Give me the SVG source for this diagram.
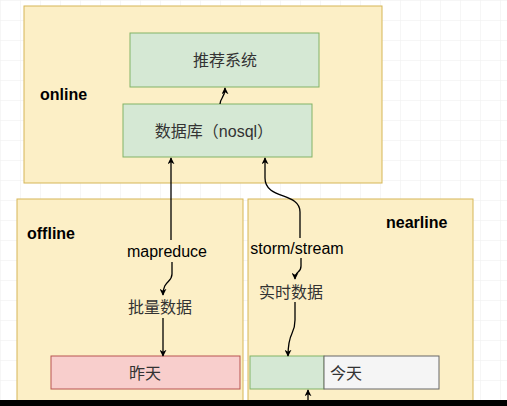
<svg xmlns="http://www.w3.org/2000/svg" width="507" height="406" viewBox="0 0 507 406">
<defs>
<marker id="arr" viewBox="0 0 10 10" refX="9" refY="5" markerWidth="7" markerHeight="7" orient="auto-start-reverse" markerUnits="userSpaceOnUse">
<path d="M0,0 L10,5 L0,10 L3,5 Z" fill="#000"/>
</marker>
<pattern id="grid" width="20" height="20" patternUnits="userSpaceOnUse">
<path d="M20,0 L0,0 L0,20" fill="none" stroke="#eeeeee" stroke-width="1"/>
</pattern>
</defs>
<style>
.zone{fill:#fcefc6;stroke:#d6b656;stroke-width:1}
.green{fill:#d5e8d4;stroke:#82b366;stroke-width:1}
.red{fill:#f8cecc;stroke:#b85450;stroke-width:1}
.grey{fill:#f5f5f5;stroke:#666666;stroke-width:1}
.lbl{font-family:"Liberation Sans","Noto Sans CJK SC",sans-serif;font-size:16px;font-weight:bold;fill:#000}
.t{font-family:"Liberation Sans","Noto Sans CJK SC",sans-serif;font-size:16px;fill:#333}
.e{fill:none;stroke:#000;stroke-width:1.3}
</style>
<rect width="507" height="406" fill="#ffffff"/>
<rect width="507" height="406" fill="url(#grid)"/>
<g id="online">
<rect class="zone" x="24" y="6" width="358" height="177"/>
<text class="lbl" x="40" y="100">online</text>
</g>
<g id="rec">
<rect class="green" x="130" y="33" width="189" height="54"/>
<text class="t" x="225" y="66" text-anchor="middle">推荐系统</text>
</g>
<g id="db">
<rect class="green" x="123" y="104" width="189" height="53"/>
<text class="t" x="214" y="137" text-anchor="middle">数据库（nosql）</text>
</g>
<g id="offline">
<rect class="zone" x="17" y="199" width="226" height="215"/>
<text class="lbl" x="27" y="239">offline</text>
</g>
<g id="nearline">
<rect class="zone" x="248" y="199" width="225" height="215"/>
<text class="lbl" x="386" y="228">nearline</text>
</g>
<g id="yesterday">
<rect class="red" x="51" y="356" width="189" height="33"/>
<text class="t" x="145" y="379" text-anchor="middle">昨天</text>
</g>
<g id="realtime">
<rect class="green" x="250" y="356" width="74" height="33"/>
</g>
<g id="today">
<rect class="grey" x="324" y="356" width="115" height="33"/>
<text class="t" x="330" y="379">今天</text>
</g>
<g id="connectors">
<path class="e" d="M220,104 C220,98 225,98 225,88" marker-end="url(#arr)"/>
<path class="e" d="M171,240 L171,158" marker-end="url(#arr)"/>
<path class="e" d="M172,262 L172,274 C172,283 163,280 163,295" marker-end="url(#arr)"/>
<path class="e" d="M163,318 L163,356" marker-end="url(#arr)"/>
<path class="e" d="M300,238 L300,212 C300,192 265,200 265,178 L265,158" marker-end="url(#arr)"/>
<path class="e" d="M301,258 L301,266 C301,274 295,270 295,279" marker-end="url(#arr)"/>
<path class="e" d="M295,302 L295,320 C295,336 288,330 288,356" marker-end="url(#arr)"/>
<path class="e" d="M308,406 L308,390" marker-end="url(#arr)"/>
</g>
<g id="labels">
<text class="t" x="167" y="257" text-anchor="middle" fill="#000" style="fill:#000">mapreduce</text>
<text class="t" x="160" y="313" text-anchor="middle">批量数据</text>
<text class="t" x="297" y="254" text-anchor="middle" style="fill:#000">storm/stream</text>
<text class="t" x="291" y="298" text-anchor="middle">实时数据</text>
</g>
<rect x="0" y="400" width="507" height="6" fill="#000"/>
</svg>
